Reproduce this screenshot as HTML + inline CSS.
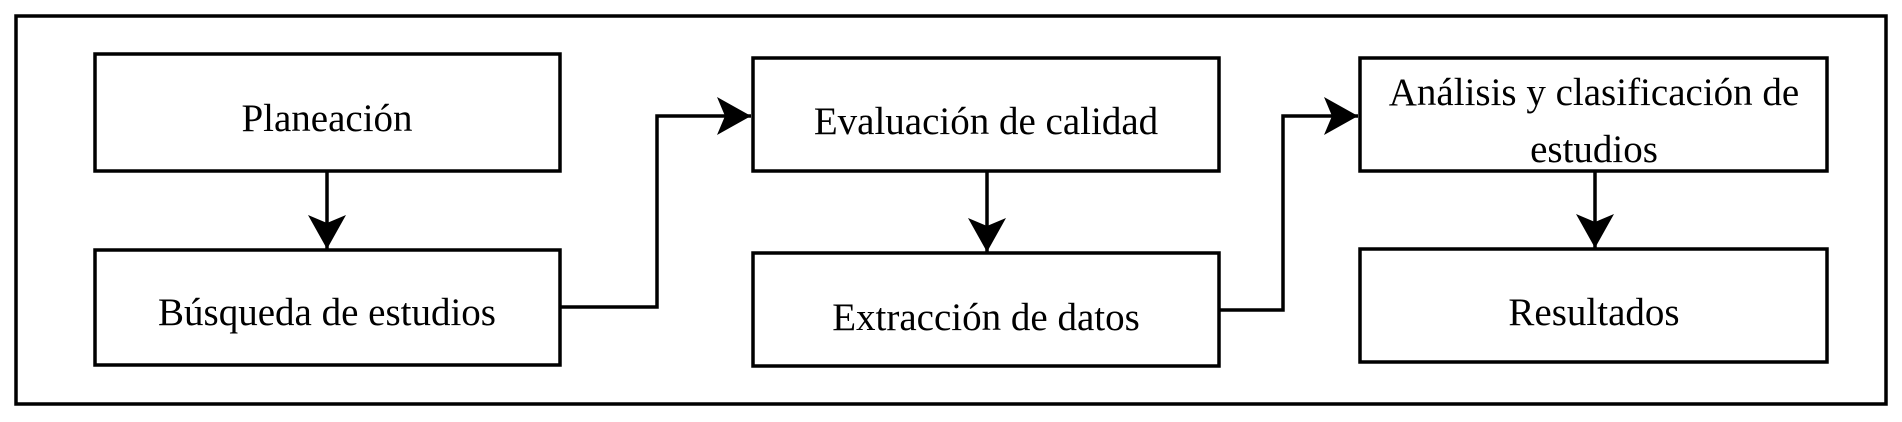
<!DOCTYPE html>
<html><head><meta charset="utf-8"><style>
html,body{margin:0;padding:0;background:#fff;width:1902px;height:422px;overflow:hidden}
text{font-family:"Liberation Serif",serif;font-size:39px;fill:#000}
</style></head><body>
<svg width="1902" height="422" viewBox="0 0 1902 422" xmlns="http://www.w3.org/2000/svg">
<defs>
<marker id="a" markerUnits="userSpaceOnUse" markerWidth="40" markerHeight="40" refX="34" refY="19" orient="auto">
<path d="M0,0 L34,19 L0,38 L8,19 Z" fill="#000"/>
</marker>
</defs>
<rect x="16" y="16" width="1870" height="388" fill="none" stroke="#000" stroke-width="3.5"/>
<g fill="#fff" stroke="#000" stroke-width="3.5">
<rect x="95" y="54" width="465" height="117"/>
<rect x="95" y="250" width="465" height="115"/>
<rect x="753" y="58" width="466" height="113"/>
<rect x="753" y="253" width="466" height="113"/>
<rect x="1360" y="58" width="467" height="113"/>
<rect x="1360" y="249" width="467" height="113"/>
</g>
<g fill="none" stroke="#000" stroke-width="3.5">
<path d="M327 171 V249" marker-end="url(#a)"/>
<path d="M987 171 V252" marker-end="url(#a)"/>
<path d="M1595 171 V248" marker-end="url(#a)"/>
<path d="M560 307 H657 V116 H751" marker-end="url(#a)"/>
<path d="M1219 310 H1283 V116 H1358" marker-end="url(#a)"/>
</g>
<g text-anchor="middle">
<text x="327" y="131">Planeación</text>
<text x="327" y="325">Búsqueda de estudios</text>
<text x="986" y="134">Evaluación de calidad</text>
<text x="986" y="330">Extracción de datos</text>
<text x="1594" y="105">Análisis y clasificación de</text>
<text x="1594" y="162">estudios</text>
<text x="1594" y="325">Resultados</text>
</g>
</svg>
</body></html>
